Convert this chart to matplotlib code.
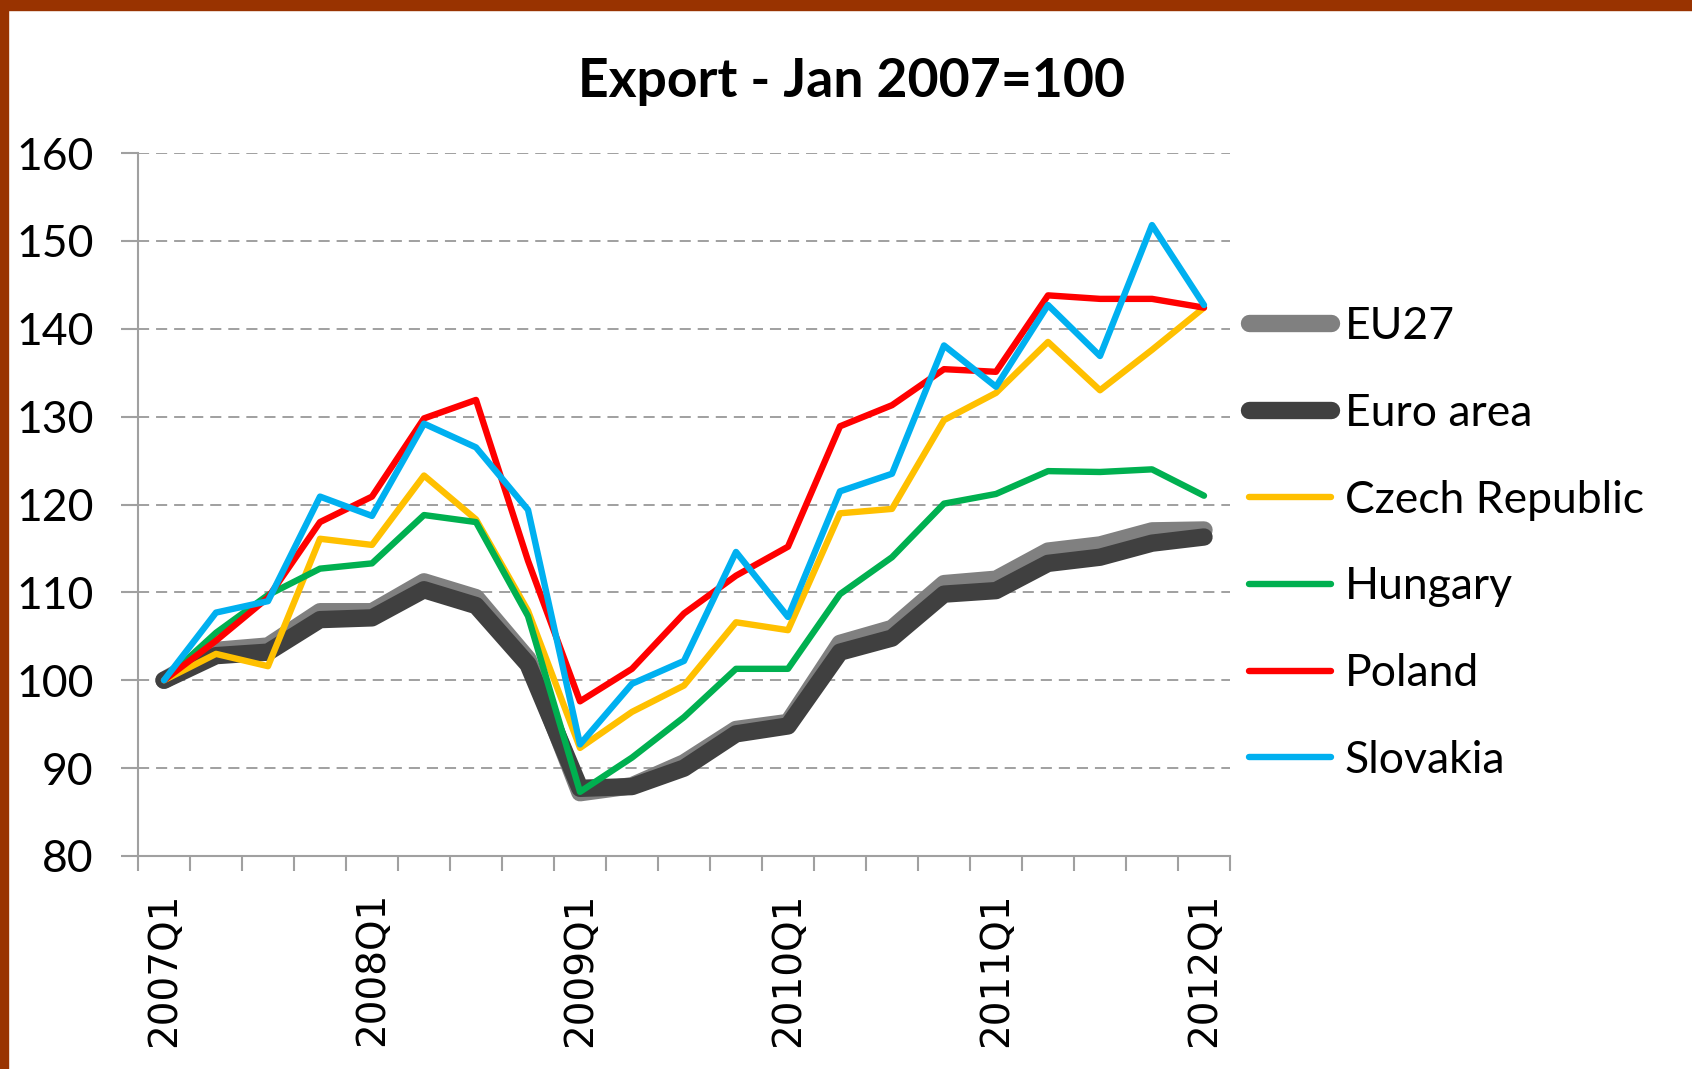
import numpy as np
import matplotlib
matplotlib.use("Agg")
import matplotlib.pyplot as plt
from matplotlib.patches import Rectangle

plt.rcParams['lines.scale_dashes'] = False

# ---- data ----
quarters = [f"{y}Q{q}" for y in range(2007, 2013) for q in range(1, 5)][:21]
tick_labels = ["2007Q1", "2008Q1", "2009Q1", "2010Q1", "2011Q1", "2012Q1"]

eu27 = [100, 103.4, 103.9, 107.8, 107.8, 111.2, 109.4, 102.4, 87.2, 88.0, 90.6,
        94.4, 95.2, 104.2, 105.9, 111.0, 111.5, 114.7, 115.4, 117.0, 117.1]
euro_area = [100, 102.8, 103.2, 106.9, 107.1, 110.3, 108.5, 101.8, 87.7, 87.9, 90.0,
             93.9, 94.8, 103.2, 104.8, 109.8, 110.2, 113.3, 114.0, 115.6, 116.3]
czech = [100, 103.0, 101.6, 116.1, 115.4, 123.3, 118.3, 107.9, 92.3, 96.4, 99.4,
         106.6, 105.7, 119.0, 119.5, 129.6, 132.7, 138.5, 133.0, 137.6, 142.4]
hungary = [100, 105.4, 109.7, 112.7, 113.3, 118.8, 118.0, 107.3, 87.3, 91.2, 95.8,
           101.3, 101.3, 109.8, 114.0, 120.1, 121.2, 123.8, 123.7, 124.0, 121.0]
poland = [100, 104.5, 109.4, 118.0, 120.9, 129.8, 131.9, 113.6, 97.6, 101.3, 107.6,
          111.9, 115.2, 128.9, 131.3, 135.4, 135.1, 143.8, 143.4, 143.4, 142.4]
slovakia = [100, 107.7, 109.0, 120.9, 118.7, 129.2, 126.5, 119.4, 92.7, 99.6, 102.2,
            114.6, 107.2, 121.5, 123.5, 138.1, 133.4, 142.7, 136.9, 151.8, 142.7]

series_names = ["EU27", "Euro area", "Czech Republic", "Hungary", "Poland", "Slovakia"]
series_vals = [eu27, euro_area, czech, hungary, poland, slovakia]
colors = ["#808080", "#404040", "#FFC000", "#00B050", "#FF0000", "#00B0F0"]
widths = [12.5, 12.5, 4.6, 4.6, 4.6, 4.6]

W, H = 1692, 1069
fig = plt.figure(figsize=(W / 100, H / 100), dpi=100)
fig.patch.set_facecolor("white")

# border (top and left)
fig.patches.append(Rectangle((0, 1 - 10 / H), 1, 10 / H, transform=fig.transFigure,
                             color="#993300", zorder=10))
fig.patches.append(Rectangle((0, 0), 8 / W, 1, transform=fig.transFigure,
                             color="#993300", zorder=10))

left, right = 138 / W, 1230 / W
bottom, top = 1 - 856 / H, 1 - 153 / H
ax = fig.add_axes([left, bottom, right - left, top - bottom])

x = np.arange(len(quarters))
handles = []
for name, vals, c, lw in zip(series_names, series_vals, colors, widths):
    h, = ax.plot(x, vals, color=c, lw=lw, solid_joinstyle="round",
                 solid_capstyle="round", label=name)
    handles.append(h)

ax.set_xlim(-0.5, len(quarters) - 0.5)
ax.set_ylim(80, 160)

# y axis
ax.set_yticks(np.arange(80, 161, 10))
ax.tick_params(axis="y", length=12, width=1.5, color="#a0a0a0", pad=20,
               labelsize=32)
for lab in ax.get_yticklabels():
    lab.set_family("Lato")
ax.yaxis.grid(True, color="#a0a0a0", lw=1.4, linestyle=(0, (8, 5)))
ax.set_axisbelow(True)

# x axis
ax.set_xticks([quarters.index(t) for t in tick_labels])
ax.set_xticklabels(tick_labels, rotation=90, family="DejaVu Sans", fontsize=28)
ax.set_xticks(np.arange(-0.5, len(quarters), 1), minor=True)
ax.tick_params(axis="x", which="major", length=0, pad=26)
ax.tick_params(axis="x", which="minor", length=11, width=1.5, color="#a0a0a0")

for s in ["top", "right"]:
    ax.spines[s].set_visible(False)
for s in ["left", "bottom"]:
    ax.spines[s].set_color("#a0a0a0")
    ax.spines[s].set_linewidth(1.5)

# title
fig.text(852 / W, 1 - 81 / H, "Export - Jan 2007=100", ha="center", va="center",
         fontsize=38.5, fontweight="bold", family="Lato")

# legend
leg = ax.legend(handles=handles, loc="upper left",
                bbox_to_anchor=(1249 / W, 1 - 306 / H), bbox_transform=fig.transFigure,
                frameon=False, prop={"family": "Lato", "size": 32},
                handlelength=1.85, handletextpad=0.3, labelspacing=1.03,
                borderpad=0, borderaxespad=0)

fig.savefig("out.png", dpi=100)
